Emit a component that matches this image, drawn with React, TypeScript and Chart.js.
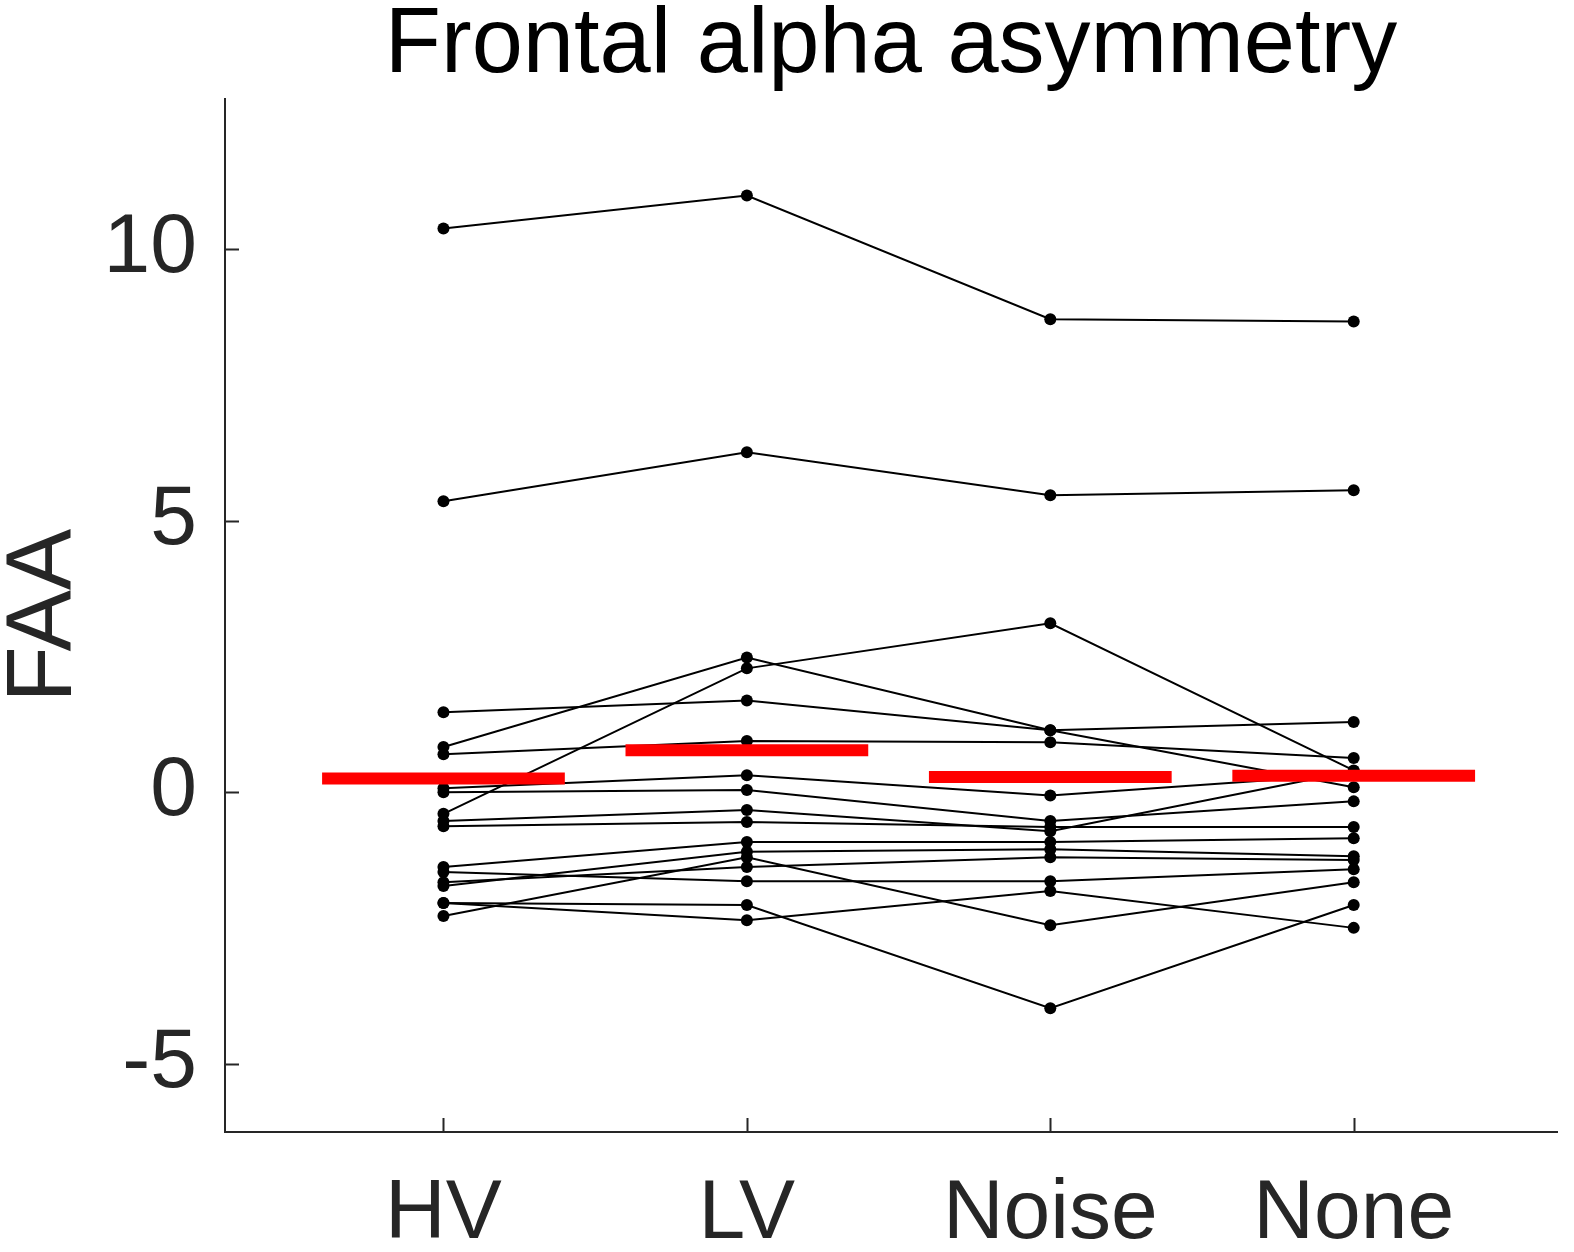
import React, { useEffect, useRef } from "react";
import { Chart, registerables } from "chart.js";

Chart.register(...registerables);

const conditions = ["HV", "LV", "Noise", "None"];

// one row per participant: FAA at HV, LV, Noise, None
const subjects = [
  [10.38, 10.99, 8.71, 8.67],
  [5.36, 6.26, 5.47, 5.56],
  [0.83, 2.48, 1.14, 0.09],
  [1.47, 1.69, 1.14, 1.29],
  [-0.4, 2.28, 3.11, 0.4],
  [0.7, 0.94, 0.92, 0.63],
  [0.07, 0.31, -0.06, 0.33],
  [0.0, 0.04, -0.53, -0.17],
  [-0.53, -0.33, -0.72, 0.39],
  [-0.63, -0.55, -0.64, -0.64],
  [-1.38, -0.92, -0.92, -0.85],
  [-1.47, -1.64, -1.64, -1.42],
  [-1.66, -1.38, -1.2, -1.25],
  [-1.73, -1.1, -1.05, -1.18],
  [-2.04, -2.08, -3.98, -2.08],
  [-2.04, -2.36, -1.82, -2.5],
  [-2.28, -1.2, -2.45, -1.66],
];

const means = [0.25, 0.77, 0.28, 0.3];

const yTicks = [-5, 0, 5, 10];

const FONT = "'Liberation Sans', Arial, Helvetica, sans-serif";
const AXIS = "#262626";

// MATLAB style ticks pointing into the plot
const innerTicks = {
  id: "innerTicks",
  afterDraw(chart) {
    const { ctx, chartArea, scales } = chart;
    ctx.save();
    ctx.strokeStyle = AXIS;
    ctx.lineWidth = 2;
    ctx.beginPath();
    yTicks.forEach((v) => {
      const y = Math.round(scales.y.getPixelForValue(v)) + 0.5;
      ctx.moveTo(chartArea.left, y);
      ctx.lineTo(chartArea.left + 14, y);
    });
    conditions.forEach((_, i) => {
      const x = Math.round(scales.x.getPixelForValue(i + 1)) + 0.5;
      ctx.moveTo(x, chartArea.bottom);
      ctx.lineTo(x, chartArea.bottom - 14);
    });
    ctx.stroke();
    ctx.restore();
  },
};

const App = () => {
  const chartRef = useRef(null);

  useEffect(() => {
    const ctx = chartRef.current.getContext("2d");

    const subjectSets = subjects.map((row, s) => ({
      label: "S" + (s + 1),
      data: row.map((v, i) => ({ x: i + 1, y: v })),
      borderColor: "#000000",
      backgroundColor: "#000000",
      borderWidth: 2,
      pointRadius: 6,
      pointBorderWidth: 0,
      order: 2,
    }));

    const meanSets = means.map((m, i) => ({
      label: "mean " + conditions[i],
      data: [
        { x: i + 1 - 0.4, y: m },
        { x: i + 1 + 0.4, y: m },
      ],
      borderColor: "#ff0000",
      borderWidth: 12,
      borderCapStyle: "butt",
      pointRadius: 0,
      order: 1,
    }));

    const myChart = new Chart(ctx, {
      type: "line",
      data: { datasets: [...subjectSets, ...meanSets] },
      options: {
        animation: false,
        responsive: true,
        maintainAspectRatio: false,
        layout: { padding: { left: 0, right: 17, top: 0, bottom: 0 } },
        plugins: {
          legend: { display: false },
          tooltip: { enabled: false },
          title: {
            display: true,
            fullSize: false,
            text: "Frontal alpha asymmetry",
            color: "#000000",
            font: { family: FONT, size: 92, weight: "normal", lineHeight: 0.95 },
            padding: { top: 3, bottom: 9 },
          },
        },
        scales: {
          x: {
            type: "linear",
            min: 0.28,
            max: 4.67,
            afterBuildTicks: (axis) => {
              axis.ticks = conditions.map((_, i) => ({ value: i + 1 }));
            },
            afterFit: (scale) => {
              scale.height = 120;
            },
            ticks: {
              color: AXIS,
              font: { family: FONT, size: 84 },
              padding: 32,
              maxRotation: 0,
              autoSkip: false,
              callback: (v) => conditions[v - 1] ?? "",
            },
            grid: { display: false, drawTicks: false },
            border: { display: true, color: AXIS, width: 2 },
          },
          y: {
            min: -6.26,
            max: 12.76,
            afterBuildTicks: (axis) => {
              axis.ticks = yTicks.map((v) => ({ value: v }));
            },
            afterFit: (scale) => {
              scale.width = 225;
            },
            ticks: {
              color: AXIS,
              font: { family: FONT, size: 84 },
              padding: 28,
              callback: (v) => String(v),
            },
            grid: { display: false, drawTicks: false },
            border: { display: true, color: AXIS, width: 2 },
            title: {
              display: true,
              text: "FAA",
              color: AXIS,
              font: { family: FONT, size: 92, lineHeight: 1 },
              padding: 0,
            },
          },
        },
      },
      plugins: [innerTicks],
    });

    return () => {
      myChart.destroy();
    };
  }, []);

  return (
    <div
      style={{
        position: "fixed",
        left: 0,
        top: 0,
        width: "1574px",
        height: "1252px",
        background: "#ffffff",
      }}
    >
      <canvas ref={chartRef}></canvas>
    </div>
  );
};

export default App;
